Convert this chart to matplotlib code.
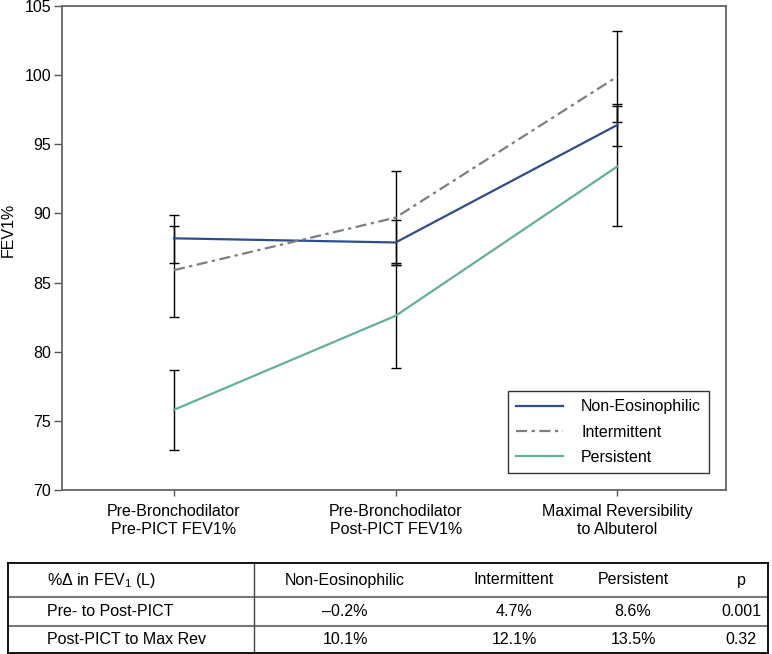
import matplotlib
matplotlib.use("Agg")
import matplotlib.pyplot as plt
import numpy as np

plt.rcParams['font.family'] = ['Liberation Sans', 'DejaVu Sans']
plt.rcParams['mathtext.default'] = 'regular'

# x categories
stages = ['Pre-Bronchodilator\nPre-PICT FEV1%',
          'Pre-Bronchodilator\nPost-PICT FEV1%',
          'Maximal Reversibility\nto Albuterol']

# FEV1% means and error bar ends
non_eos = [88.2, 87.9, 96.4]
non_eos_lo = [86.4, 86.3, 94.9]
non_eos_hi = [89.9, 89.5, 97.9]

intermittent = [85.9, 89.7, 99.9]
intermittent_lo = [82.5, 86.3, 96.6]
intermittent_hi = [89.1, 93.1, 103.2]

persistent = [75.8, 82.6, 93.4]
persistent_lo = [72.9, 78.8, 89.1]
persistent_hi = [78.7, 86.4, 97.8]

# table below the chart
table_header = ['%$\\Delta$ in FEV$_1$ (L)', 'Non-Eosinophilic', 'Intermittent', 'Persistent', 'p']
table_rows = [['Pre- to Post-PICT', '\u20130.2%', '4.7%', '8.6%', '0.001'],
              ['Post-PICT to Max Rev', '10.1%', '12.1%', '13.5%', '0.32']]

W, H = 772, 654
fig = plt.figure(figsize=(W / 100, H / 100), dpi=100)
ax = fig.add_axes([62 / W, 1 - 490 / H, (726 - 62) / W, (490 - 6) / H])

x = np.arange(len(stages))
series = [
    ('Non-Eosinophilic', non_eos, non_eos_lo, non_eos_hi, '#2d4d8e', '-'),
    ('Intermittent', intermittent, intermittent_lo, intermittent_hi, '#7f7f7f', (0, (5, 2, 1.5, 2))),
    ('Persistent', persistent, persistent_lo, persistent_hi, '#62b196', '-'),
]
for name, m, lo, hi, col, ls in series:
    m = np.array(m)
    err = [m - np.array(lo), np.array(hi) - m]
    ax.errorbar(x, m, yerr=err, fmt='none', ecolor='black', elinewidth=1.0,
                capsize=3.5, capthick=1.0, zorder=2)
for name, m, lo, hi, col, ls in series:
    ax.plot(x, m, color=col, linestyle=ls, linewidth=1.6, label=name, zorder=3)

ax.set_xlim(-0.505, 2.49)
ax.set_ylim(70, 105)
ax.set_yticks(np.arange(70, 106, 5))
ax.set_xticks(x)
ax.set_xticklabels(stages, fontsize=11.5, linespacing=1.25)
ax.tick_params(axis='y', labelsize=11.5, length=6, width=1, color='#555555', pad=2)
ax.tick_params(axis='x', length=4, width=1, color='#555555', pad=6)
for sp in ax.spines.values():
    sp.set_color('#666666')
    sp.set_linewidth(1.3)
ax.set_ylabel('FEV1%', fontsize=11.5)
ax.yaxis.set_label_coords(-0.069, 0.537)

leg = ax.legend(loc='lower right', bbox_to_anchor=(0.9744, 0.035), fontsize=11.5,
                frameon=True, fancybox=False, edgecolor='#333333', framealpha=1,
                handlelength=3.0, handletextpad=1.1, labelspacing=0.65,
                borderpad=0.5, borderaxespad=0)
leg.get_frame().set_linewidth(1.0)

# table drawn in pixel-like units
tx0, ty0, tx1, ty1 = 8, 563, 768, 653
tab = fig.add_axes([tx0 / W, 1 - ty1 / H, (tx1 - tx0) / W, (ty1 - ty0) / H])
tab.set_xlim(0, tx1 - tx0)
tab.set_ylim(ty1 - ty0, 0)
tab.set_xticks([])
tab.set_yticks([])
for sp in tab.spines.values():
    sp.set_color('black')
    sp.set_linewidth(1.3)
row_lines = [34, 63]
for yl in row_lines:
    tab.axhline(yl, color='#777777', linewidth=1.5)
tab.axvline(246, color='#444444', linewidth=1.0)

col_x = [39, 337, 506, 625, 733]
row_y = [17, 48.5, 76.5]
for r, row in enumerate([table_header] + table_rows):
    for c, txt in enumerate(row):
        ha = 'left' if c == 0 else 'center'
        tab.text(col_x[c], row_y[r], txt, ha=ha, va='center', fontsize=11.5)

fig.savefig('out.png', dpi=100)
